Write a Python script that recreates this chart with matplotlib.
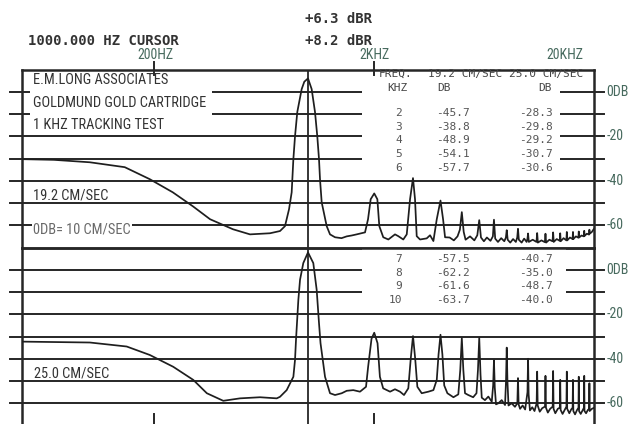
import matplotlib
matplotlib.use("Agg")
import matplotlib.pyplot as plt
from matplotlib import font_manager
from matplotlib.patches import Rectangle
from matplotlib.transforms import blended_transform_factory

# look for a condensed sans, the scan uses a narrow plotter lettering
names = {f.name for f in font_manager.fontManager.ttflist}
COND, STRETCH = None, 'normal'
for c in ['Liberation Sans Narrow', 'DejaVu Sans Condensed', 'Noto Sans Condensed',
          'Roboto Condensed', 'Open Sans Condensed']:
    if c in names:
        COND = c
        break
if COND is None:
    for f in font_manager.fontManager.ttflist:
        if f.name in ('Noto Sans', 'DejaVu Sans', 'Open Sans', 'Roboto') and \
                str(f.stretch) in ('condensed', 'semi-condensed', 'extra-condensed') and \
                f.style == 'normal' and f.weight in (400, 'normal', 'regular', 'book'):
            COND, STRETCH = f.name, f.stretch
            break
if COND is None:
    COND = 'Liberation Sans'
MONO = 'DejaVu Sans Mono'

# ---- data: (Hz, dB) ----
trace_19 = [
    (50, -30.3), (70, -30.6), (102, -31.7), (147, -33.9), (191, -39.3), (243, -45.2),
    (300, -51.5), (359, -57.3), (456, -61.8), (545, -64.1), (672, -63.6), (746, -62.6),
    (786, -60.4), (820, -52.8), (843, -45.2), (858, -30.3), (873, -20.0), (894, -9.1),
    (936, 1.2), (962, 4.5), (1000, 6.0), (1039, 1.2), (1076, -9.1), (1102, -20.0),
    (1122, -30.3), (1134, -39.4), (1154, -49.7), (1216, -60.4), (1259, -64.1), (1327, -65.4),
    (1420, -65.8), (1499, -65.0), (1580, -64.6), (1664, -64.1), (1816, -63.2), (1874, -57.3),
    (1927, -48.3), (2000, -45.7), (2066, -48.3), (2109, -60.4), (2198, -65.4), (2318, -66.4),
    (2485, -64.1), (2572, -64.9), (2710, -66.4), (2810, -64.1), (2909, -48.3), (3000, -38.8),
    (3064, -48.3), (3119, -64.9), (3229, -66.4), (3463, -65.9), (3586, -64.5), (3714, -67.1),
    (3847, -57.3), (4000, -48.9), (4110, -57.3), (4196, -65.4), (4400, -65.5), (4600, -66.8),
    (4780, -65.0), (4900, -62.0), (5000, -54.1), (5100, -63.0), (5200, -66.5), (5450, -65.0),
    (5700, -66.8), (5880, -64.5), (6000, -57.7), (6110, -65.5), (6300, -67.2), (6500, -65.5),
    (6750, -67.0), (6920, -65.0), (7000, -57.5), (7090, -66.0), (7300, -67.5), (7550, -65.8),
    (7800, -67.2), (7930, -65.5), (8000, -62.2), (8080, -66.5), (8300, -67.8), (8550, -66.2),
    (8800, -67.5), (8930, -65.5), (9000, -61.6), (9080, -66.5), (9350, -67.8), (9600, -66.0),
    (9850, -67.5), (9940, -66.0), (10000, -63.7), (10080, -67.5), (10500, -66.5), (10920, -67.5),
    (11000, -63.5), (11080, -67.8), (11500, -66.8), (11920, -67.6), (12000, -63.8), (12080, -67.8),
    (12500, -66.5), (12920, -67.2), (13000, -63.2), (13080, -67.5), (13500, -66.2), (13930, -67.0),
    (14000, -63.6), (14070, -67.2), (14500, -65.8), (14930, -66.8), (15000, -63.0), (15070, -66.8),
    (15500, -65.5), (15930, -66.2), (16000, -63.0), (16070, -66.2), (16500, -65.0), (16930, -65.6),
    (17000, -62.8), (17070, -65.5), (17500, -64.6), (17930, -65.0), (18000, -62.5), (18070, -64.8),
    (18500, -63.8), (18930, -64.2), (19000, -62.0), (19070, -63.8), (19500, -63.0), (19800, -62.0),
    (20000, -61.5),
]

trace_25 = [
    (50, -32.3), (102, -32.7), (150, -34.5), (191, -38.3), (244, -43.6), (301, -49.5),
    (347, -55.5), (412, -58.9), (491, -57.8), (605, -57.3), (721, -57.8), (746, -57.1),
    (800, -54.1), (858, -48.1), (873, -40.5), (882, -31.5), (904, -13.5), (920, -4.5),
    (952, 3.0), (1000, 7.8), (1057, 3.0), (1095, -9.0), (1122, -24.0), (1140, -33.0),
    (1195, -48.1), (1259, -55.5), (1327, -56.3), (1423, -55.5), (1499, -54.4), (1606, -54.1),
    (1723, -54.8), (1835, -52.6), (1876, -43.6), (1944, -31.0), (2000, -28.3), (2070, -33.0),
    (2122, -48.1), (2196, -53.3), (2360, -54.8), (2485, -53.7), (2619, -54.8), (2731, -56.3),
    (2856, -53.3), (2930, -40.0), (3000, -29.8), (3070, -40.0), (3140, -52.6), (3287, -55.5),
    (3523, -54.8), (3714, -54.1), (3847, -49.5), (3920, -38.0), (4000, -29.2), (4080, -38.0),
    (4160, -52.0), (4300, -55.5), (4420, -56.3), (4580, -57.3), (4820, -56.0), (4920, -45.0),
    (5000, -30.7), (5080, -45.0), (5170, -55.5), (5350, -56.3), (5630, -57.3), (5830, -55.5),
    (5920, -45.0), (6000, -30.6), (6080, -47.0), (6160, -57.5), (6370, -58.6), (6600, -57.0),
    (6840, -59.3), (6940, -52.0), (7000, -40.7), (7060, -53.0), (7150, -60.5), (7330, -60.0),
    (7590, -58.6), (7860, -60.8), (7940, -50.0), (8000, -35.0), (8060, -50.0), (8150, -61.0),
    (8420, -60.0), (8720, -61.6), (8940, -60.0), (9000, -48.7), (9060, -60.5), (9200, -62.5),
    (9450, -61.0), (9700, -62.8), (9940, -55.0), (10000, -40.0), (10060, -56.0), (10200, -63.2),
    (10450, -61.8), (10700, -63.5), (10940, -60.0), (11000, -45.8), (11060, -61.0), (11300, -63.8),
    (11600, -62.2), (11940, -61.5), (12000, -47.7), (12060, -62.0), (12300, -64.2), (12600, -62.5),
    (12940, -61.5), (13000, -45.5), (13060, -62.5), (13300, -64.5), (13650, -62.5), (13940, -62.0),
    (14000, -49.5), (14060, -63.0), (14350, -64.8), (14700, -62.8), (14940, -61.5), (15000, -45.8),
    (15060, -62.5), (15400, -64.5), (15700, -62.8), (15940, -62.0), (16000, -49.5), (16060, -63.5),
    (16350, -65.0), (16700, -63.0), (16950, -62.0), (17000, -48.1), (17050, -63.5), (17350, -64.8),
    (17700, -63.2), (17950, -62.0), (18000, -47.7), (18050, -63.5), (18350, -64.5), (18700, -63.0),
    (18950, -62.5), (19000, -51.0), (19050, -63.5), (19500, -62.5), (20000, -62.0),
]

# harmonic table
harm_top = [2, 3, 4, 5, 6]
db19_top = [-45.7, -38.8, -48.9, -54.1, -57.7]
db25_top = [-28.3, -29.8, -29.2, -30.7, -30.6]
harm_bot = [7, 8, 9, 10]
db19_bot = [-57.5, -62.2, -61.6, -63.7]
db25_bot = [-40.7, -35.0, -48.7, -40.0]

grid_db = [0, -10, -20, -30, -40, -50, -60]
right_labels = {0: '0DB', -20: '-20', -40: '-40', -60: '-60'}

W_PX, H_PX = 631, 424
INK = '#262626'
GREEN = '#476a5e'

fig = plt.figure(figsize=(W_PX / 100, H_PX / 100), dpi=100)
fig.patch.set_facecolor('white')
renderer = fig.canvas.get_renderer()


def fx(px):
    return px / W_PX


def fy(py):
    return 1 - py / H_PX


def size_for(s, target_px):
    # font size that makes s as wide as on the scan
    t = fig.text(0, 0, s, family=COND, fontstretch=STRETCH, fontsize=10)
    w = t.get_window_extent(renderer).width
    t.remove()
    return 10 * target_px / w


# one size per group of lettering
PANEL_SIZE = sorted([size_for('E.M.LONG ASSOCIATES', 132),
                     size_for('GOLDMUND GOLD CARTRIDGE', 159),
                     size_for('1 KHZ TRACKING TEST', 131),
                     size_for('19.2 CM/SEC', 77),
                     size_for('0DB= 10 CM/SEC', 99)])[2]
RIGHT_SIZE = size_for('-20', 17)
TOP_SIZE = size_for('200HZ', 36)


def ctext(px, py, s, size, **kw):
    kw.setdefault('color', '#333333')
    kw.setdefault('va', 'center')
    return fig.text(fx(px), fy(py), s, family=COND, fontstretch=STRETCH, fontsize=size, **kw)


left = 21.7 / W_PX
width = 572.6 / W_PX
ax_top = fig.add_axes([left, fy(247.5), width, 178 / H_PX])
ax_bot = fig.add_axes([left, fy(425.5), width, 178 / H_PX])

for ax, trace in [(ax_top, trace_19), (ax_bot, trace_25)]:
    ax.set_xscale('log')
    ax.set_xlim(50, 20000)
    ax.set_ylim(-70, 10)
    ax.set_xticks([])
    ax.set_yticks([])
    ax.minorticks_off()
    for s in ax.spines.values():
        s.set_linewidth(1.8)
        s.set_color(INK)
    ax.patch.set_alpha(0)
    tr = ax.get_yaxis_transform()
    for db in grid_db:
        ax.plot([-0.02, 1.017], [db, db], transform=tr, color=INK,
                lw=1.4, clip_on=False, zorder=1)
        if db in right_labels:
            ax.text(1.021, db, right_labels[db], transform=tr, ha='left', va='center',
                    family=COND, fontstretch=STRETCH, fontsize=RIGHT_SIZE, color=GREEN)
    ax.axvline(1000, color=INK, lw=1.3, zorder=3)
    f = [p[0] for p in trace]
    d = [p[1] for p in trace]
    ax.plot(f, d, color='#1e1e1e', lw=1.25, zorder=4)

# white areas where the printed text covers the grid
btr_top = blended_transform_factory(ax_top.transAxes, ax_top.transData)
btr_bot = blended_transform_factory(ax_bot.transAxes, ax_bot.transData)
ax_top.add_patch(Rectangle((0.0145, -15), 0.318, 24.5, transform=btr_top,
                           facecolor='white', edgecolor='none', zorder=2))
ax_top.add_patch(Rectangle((0.594, -35), 0.346, 44.5, transform=btr_top,
                           facecolor='white', edgecolor='none', zorder=2))
ax_bot.add_patch(Rectangle((0.594, -15), 0.356, 24.5, transform=btr_bot,
                           facecolor='white', edgecolor='none', zorder=2))

# decade ticks top and bottom
for fq in [200, 2000]:
    ax_top.plot([fq, fq], [7.5, 13.4], color=INK, lw=1.4, clip_on=False, zorder=3)
    ax_bot.plot([fq, fq], [-70, -65], color=INK, lw=1.4, clip_on=False, zorder=3)

# header texts
fig.text(fx(305), fy(19), '+6.3 dBR', family=MONO, fontsize=10, fontweight='bold',
         color='#333333', va='center')
fig.text(fx(305), fy(41), '+8.2 dBR', family=MONO, fontsize=10, fontweight='bold',
         color='#333333', va='center')
fig.text(fx(28), fy(41), '1000.000 HZ CURSOR', family=MONO, fontsize=10, fontweight='bold',
         color='#333333', va='center')
for px, lab in [(155, '200HZ'), (374, '2KHZ'), (565, '20KHZ')]:
    ctext(px, 55, lab, TOP_SIZE, color=GREEN, ha='center')

# panel texts
ctext(33, 80, 'E.M.LONG ASSOCIATES', PANEL_SIZE, zorder=5)
ctext(33, 103, 'GOLDMUND GOLD CARTRIDGE', PANEL_SIZE, zorder=5)
ctext(33, 125, '1 KHZ TRACKING TEST', PANEL_SIZE, zorder=5)
ctext(33, 195, '19.2 CM/SEC', PANEL_SIZE, zorder=5)
ctext(34, 373, '25.0 CM/SEC', PANEL_SIZE, zorder=5)
ctext(33, 229, '0DB= 10 CM/SEC', PANEL_SIZE, color='#6a6a6a', zorder=5,
      bbox=dict(facecolor='white', edgecolor='none', pad=1.0))

# harmonic table
TAB = '#555555'
HEAD = '#444444'
fig.text(fx(379), fy(74), 'FREQ.', family=MONO, fontsize=8, color=HEAD, va='center')
fig.text(fx(428), fy(74), '19.2 CM/SEC 25.0 CM/SEC', family=MONO, fontsize=8,
         color=HEAD, va='center')
fig.text(fx(387), fy(88), 'KHZ', family=MONO, fontsize=8, color=HEAD, va='center')
fig.text(fx(437), fy(88), 'DB', family=MONO, fontsize=8, color=HEAD, va='center')
fig.text(fx(538), fy(88), 'DB', family=MONO, fontsize=8, color=HEAD, va='center')


def table_rows(harms, c1, c2, y0):
    for i, (h, a, b) in enumerate(zip(harms, c1, c2)):
        py = y0 + i * 13.7
        fig.text(fx(402), fy(py), str(h), family=MONO, fontsize=8, color=TAB,
                 ha='right', va='center')
        fig.text(fx(470), fy(py), f'{a:.1f}', family=MONO, fontsize=8, color=TAB,
                 ha='right', va='center')
        fig.text(fx(553), fy(py), f'{b:.1f}', family=MONO, fontsize=8, color=TAB,
                 ha='right', va='center')


table_rows(harm_top, db19_top, db25_top, 113)
table_rows(harm_bot, db19_bot, db25_bot, 259)

fig.savefig('out.png', dpi=100, facecolor='white')
